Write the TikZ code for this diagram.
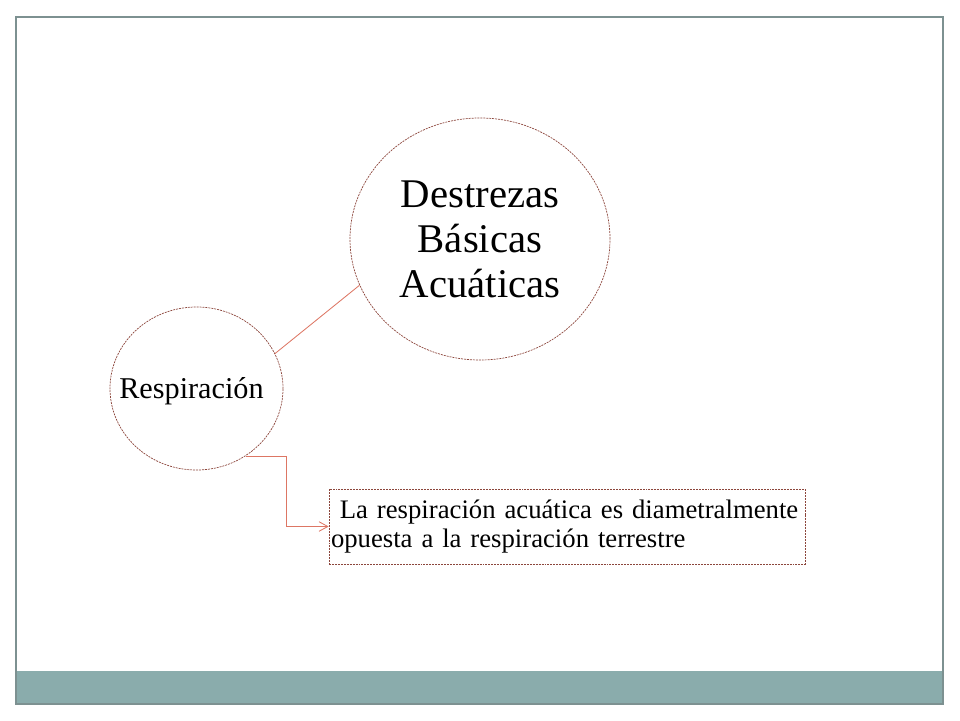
\documentclass[tikz,border=0pt]{standalone}
\usepackage{fontspec}
\setmainfont{Liberation Serif}
\usetikzlibrary{shapes.geometric,positioning,arrows.meta}

\definecolor{lachs}{RGB}{221,118,100}
\definecolor{rand}{RGB}{140,70,60}
\definecolor{rahmen}{RGB}{125,145,145}
\definecolor{balken}{RGB}{138,172,172}

\begin{document}
\begin{tikzpicture}[on grid,
 blase/.style={ellipse,draw=rand,line width=0.5pt,dash pattern=on 1.4pt off 0.7pt,inner sep=0pt},
 kasten/.style={rectangle,draw=rand,line width=0.5pt,dash pattern=on 1.4pt off 0.7pt,
   minimum width=11.9cm,minimum height=1.875cm,text width=11.8cm,inner xsep=0.5mm,align=left},
 verbinder/.style={draw=lachs,line width=0.6pt},
 >={Straight Barb[length=2.2mm,width=2.4mm]}]

 \useasboundingbox (0,0) rectangle (24,18);
 \fill[balken] (0.4,0.4) rectangle (23.575,1.225);
 \draw[rahmen,line width=0.8pt] (0.4,0.4) rectangle (23.575,17.575);

 \node[blase,minimum width=4.325cm,minimum height=4.075cm,font=\fontsize{21.5}{24}\selectfont]
   (resp) at (4.9125,8.2875) {\makebox[0pt]{\hspace*{-0.25cm}\raisebox{-0.25cm}[0pt][0pt]{Respiración}}};
 \node[blase,minimum width=6.5cm,minimum height=6.05cm,align=center,font=\fontsize{29}{32}\selectfont]
   (dba) [above right=3.7375cm and 7.0875cm of resp] {Destrezas\\Básicas\\Acuáticas};
 \node[kasten,font=\fontsize{19}{20}\selectfont] (nota) [below right=3.45cm and 9.2625cm of resp]
   {\ La respiración acuática es diametralmente\\opuesta a la respiración terrestre};

 \path[verbinder] (resp.24) -- (dba.201);
 \path[verbinder,->] (resp.306) -- ++(1.025,0) |- (nota.west);
\end{tikzpicture}
\end{document}
